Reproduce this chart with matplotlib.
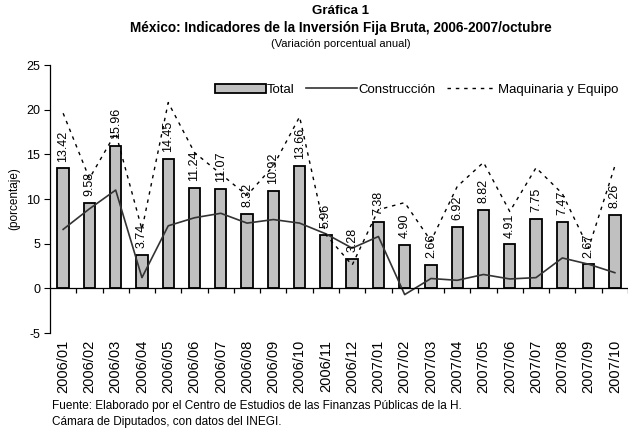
import matplotlib
matplotlib.use("Agg")
import matplotlib.pyplot as plt
import numpy as np

plt.rcParams['font.family'] = ['Liberation Sans', 'DejaVu Sans']

categories = ["2006/01", "2006/02", "2006/03", "2006/04", "2006/05", "2006/06",
              "2006/07", "2006/08", "2006/09", "2006/10", "2006/11", "2006/12",
              "2007/01", "2007/02", "2007/03", "2007/04", "2007/05", "2007/06",
              "2007/07", "2007/08", "2007/09", "2007/10"]
total = [13.42, 9.58, 15.96, 3.74, 14.45, 11.24, 11.07, 8.32, 10.92, 13.66, 5.96,
         3.28, 7.38, 4.90, 2.66, 6.92, 8.82, 4.91, 7.75, 7.47, 2.67, 8.26]
construccion = [6.6, 8.9, 11.0, 1.2, 7.0, 7.9, 8.4, 7.3, 7.7, 7.3, 6.1,
                4.5, 5.8, -0.7, 1.1, 0.9, 1.55, 1.05, 1.2, 3.4, 2.7, 1.75]
maquinaria = [19.6, 12.3, 17.4, 6.6, 20.8, 15.2, 12.8, 10.4, 13.7, 19.2, 6.0,
              2.6, 8.8, 9.6, 5.3, 11.4, 14.1, 8.6, 13.5, 10.6, 4.5, 13.7]
yticks = [-5, 0, 5, 10, 15, 20, 25]

fig = plt.figure(figsize=(6.31, 4.30), dpi=100)
ax = fig.add_axes([50/631, 97/430, 578/631, 268/430])

x = np.arange(len(categories))
bars = ax.bar(x, total, width=0.43, color='#c0c0c0', edgecolor='black',
              linewidth=1.3, label='Total', zorder=2)
l1, = ax.plot(x, construccion, color='#333333', linewidth=1.2, label='Construcción', zorder=3)
l2, = ax.plot(x, maquinaria, color='black', linewidth=1.0, linestyle=(0, (2.5, 3.5)),
              label='Maquinaria y Equipo', zorder=3)

for xi, v in zip(x, total):
    ax.annotate(f"{v:.2f}", (xi, v), xytext=(0, 5), textcoords='offset points',
                rotation=90, ha='center', va='bottom', fontsize=9)

ax.set_xlim(-0.5, len(categories) - 0.5)
ax.set_ylim(-5, 25)
ax.set_yticks(yticks)
ax.set_yticklabels([str(t) for t in yticks], fontsize=9)
ax.tick_params(axis='y', direction='out', length=4, width=0.8, pad=3)
ax.set_ylabel('(porcentaje)', fontsize=8.5, labelpad=4)

ax.set_xticks(x)
ax.set_xticklabels(categories, rotation=90, fontsize=10.5)
ax.tick_params(axis='x', length=0, pad=5)

for s in ['top', 'right', 'bottom']:
    ax.spines[s].set_visible(False)
ax.spines['left'].set_linewidth(0.9)
ax.axhline(0, color='black', linewidth=0.9, zorder=4)
ax.vlines(x[:-1] + 0.5, -0.55, 0, color='black', linewidth=0.9, zorder=4)
ax.vlines([len(categories) - 0.5], -0.55, 0, color='black', linewidth=0.9, zorder=4)

leg = ax.legend(handles=[bars, l1, l2], loc='upper right', bbox_to_anchor=(1.0, 0.965),
                ncol=3, frameon=False, fontsize=9.5, handlelength=3.8,
                handletextpad=0.1, columnspacing=0.9, handleheight=0.7,
                borderaxespad=0.3)

fig.text(341/631, 1 - 11/430, 'Gráfica 1', ha='center', va='center',
         fontsize=9.5, fontweight='bold')
fig.text(341/631, 1 - 28/430,
         'México: Indicadores de la Inversión Fija Bruta, 2006-2007/octubre',
         ha='center', va='center', fontsize=9.8, fontweight='bold')
fig.text(341/631, 1 - 44/430, '(Variación porcentual anual)', ha='center',
         va='center', fontsize=8)
fig.text(52/631, 1 - 406/430,
         'Fuente: Elaborado por el Centro de Estudios de las Finanzas Públicas de la H.',
         ha='left', va='center', fontsize=8.5)
fig.text(52/631, 1 - 422/430, 'Cámara de Diputados, con datos del INEGI.',
         ha='left', va='center', fontsize=8.5)

fig.savefig('out.png', dpi=100)
